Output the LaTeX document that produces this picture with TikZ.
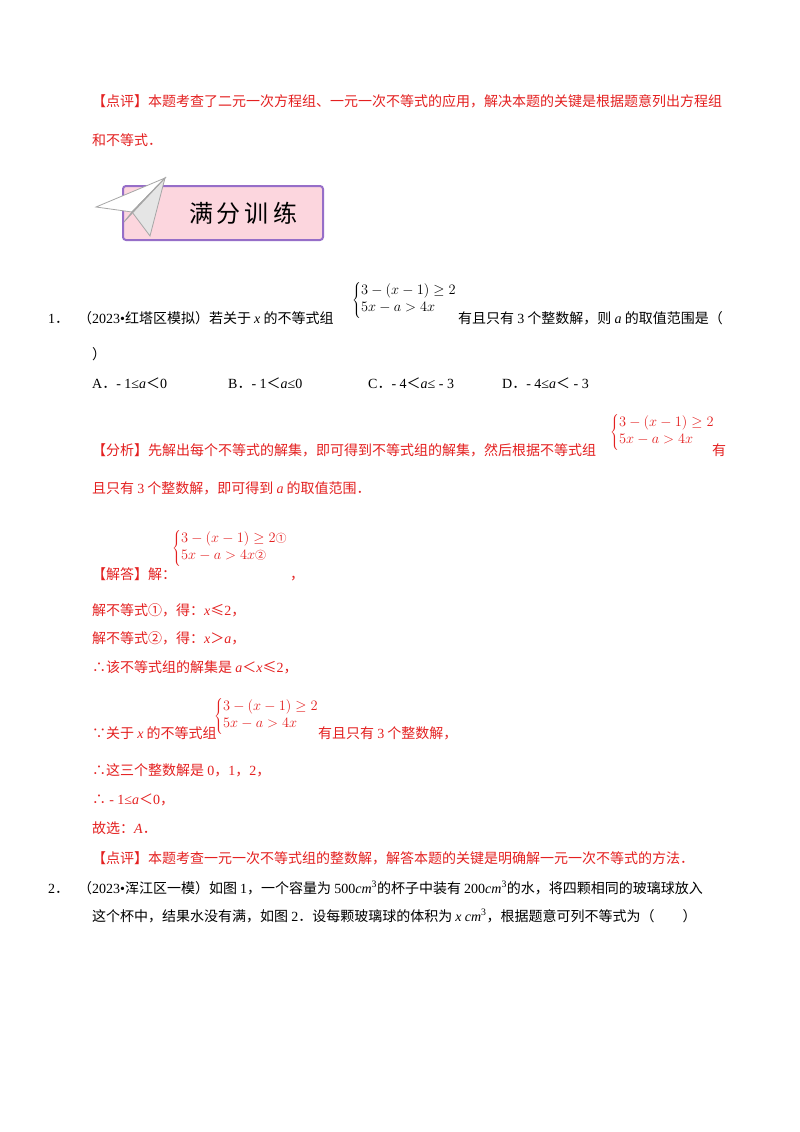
\documentclass[tikz,border=0pt]{standalone}
\usepackage{fontspec}
\setmainfont{Noto Sans CJK SC}
\newfontfamily\lat{Liberation Serif}
\newcommand\la[1]{{\lat #1}}
\newcommand\va[1]{{\lat\itshape #1}}
\definecolor{ared}{RGB}{228,32,32}
\definecolor{bpink}{RGB}{252,214,222}
\definecolor{bpurp}{RGB}{150,110,200}
\newcommand\sysm{\ensuremath{\left\{\begin{array}{@{}l@{}}3-(x-1)\geq 2\\[0pt] 5x-a>4x\end{array}\right.}}
\tikzset{txt/.style={anchor=base west,inner sep=0pt,font=\fontsize{14}{16}\selectfont},
 red/.style={txt,text=ared},
 sys/.style={anchor=west,inner sep=0pt,font=\fontsize{15}{17}\selectfont}}
\begin{document}
\begin{tikzpicture}[x=1pt,y=-1pt]
\useasboundingbox[fill=white] (0,0) rectangle (800,1132);
\node[red] (l1) at (92,106) {【点评】本题考查了二元一次方程组、一元一次不等式的应用，解决本题的关键是根据题意列出方程组};
\node[red] (l2) at (92,145) {和不等式．};
% banner
\draw[bpurp,line width=2pt,fill=bpink,rounded corners=3pt] (123,186) rectangle (323,240);
\node (ban) at (243,213) {\fontsize{24}{26}\selectfont 满\,分\,训\,练};
\fill[white,draw=gray!70,line width=0.8pt] (165,178) -- (96,207) -- (132,212) -- cycle;
\fill[gray!20,draw=gray!70,line width=0.8pt] (165,178) -- (132,212) -- (150,236) -- cycle;
\fill[gray!45,draw=gray!70,line width=0.8pt] (165,178) -- (124,222) -- (132,212) -- cycle;
% Q1
\node[txt] (q1n) at (48,323) {\la{1}．};
\node[txt] (q1a) at (78,323) {（\la{2023•}红塔区模拟）若关于 \va{x} 的不等式组};
\node[sys] (s1) at (352,300) {\sysm};
\node[txt] (q1b) at (458,323) {有且只有 \la{3} 个整数解，则 \va{a} 的取值范围是（};
\node[txt] (q1c) at (92,359) {）};
\node[txt] (oa) at (92,388) {\la{A}．\la{- 1≤\textit{a}}＜\la{0}};
\node[txt] (ob) at (228,388) {\la{B}．\la{- 1}＜\la{\textit{a}≤0}};
\node[txt] (oc) at (368,388) {\la{C}．\la{- 4}＜\la{\textit{a}≤ - 3}};
\node[txt] (od) at (502,388) {\la{D}．\la{- 4≤\textit{a}}＜\la{ - 3}};
% analysis
\node[red] (f1) at (92,455) {【分析】先解出每个不等式的解集，即可得到不等式组的解集，然后根据不等式组};
\node[sys,text=ared] (s2) at (610,432) {\sysm};
\node[red] (f2) at (712,455) {有};
\node[red] (f3) at (92,493) {且只有 \la{3} 个整数解，即可得到 \va{a} 的取值范围．};
\node[red] (j1) at (92,579) {【解答】解：};
\node[sys,text=ared] (s3) at (172,548) {\ensuremath{\left\{\begin{array}{@{}l@{}}3-(x-1)\geq 2\mbox{\fontsize{11}{12}\selectfont①}\\[0pt] 5x-a>4x\mbox{\fontsize{11}{12}\selectfont②}\end{array}\right.}};
\node[red] (j1b) at (290,579) {，};
\node[red] (j2) at (92,615) {解不等式①，得：\va{x}≤\la{2}，};
\node[red] (j3) at (92,643) {解不等式②，得：\va{x}＞\va{a}，};
\node[red] (j4) at (92,672) {∴该不等式组的解集是 \va{a}＜\va{x}≤\la{2}，};
\node[red] (j5) at (92,738) {∵关于 \va{x} 的不等式组};
\node[sys,text=ared] (s4) at (214,716) {\sysm};
\node[red] (j5b) at (318,738) {有且只有 \la{3} 个整数解，};
\node[red] (j6) at (92,775) {∴这三个整数解是 \la{0}，\la{1}，\la{2}，};
\node[red] (j7) at (92,804) {∴ \la{- 1≤\textit{a}}＜\la{0}，};
\node[red] (j8) at (92,833) {故选：\va{A}．};
\node[red] (j9) at (92,863) {【点评】本题考查一元一次不等式组的整数解，解答本题的关键是明确解一元一次不等式的方法．};
% Q2
\node[txt] (q2n) at (48,893) {\la{2}．};
\node[txt] (q2a) at (78,893) {（\la{2023•}浑江区一模）如图 \la{1}，一个容量为 \la{500}\va{cm}\la{\textsuperscript{3}}的杯子中装有 \la{200}\va{cm}\la{\textsuperscript{3}}的水，将四颗相同的玻璃球放入};
\node[txt] (q2b) at (92,921) {这个杯中，结果水没有满，如图 \la{2}．设每颗玻璃球的体积为 \va{x} \va{cm}\la{\textsuperscript{3}}，根据题意可列不等式为（\quad\quad）};
\end{tikzpicture}
\end{document}
